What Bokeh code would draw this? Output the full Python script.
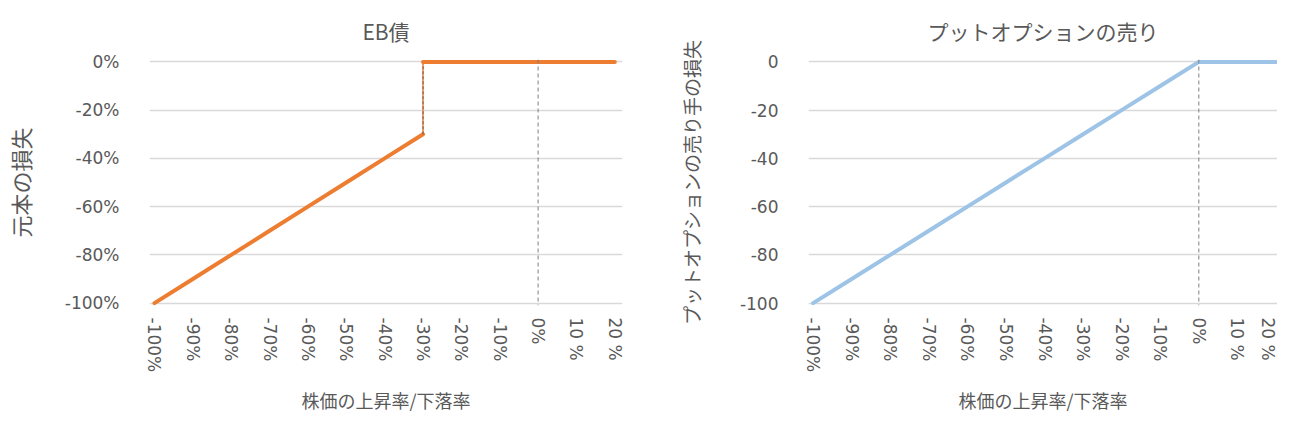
import math
from bokeh.plotting import figure
from bokeh.layouts import row
from bokeh.models import Range1d, FixedTicker, Span
from bokeh.embed import file_html
from bokeh.resources import INLINE

# ---- data ----
x_ticks = [-100, -90, -80, -70, -60, -50, -40, -30, -20, -10, 0, 10, 20]
x_tick_labels = ["-100%", "-90%", "-80%", "-70%", "-60%", "-50%", "-40%",
                 "-30%", "-20%", "-10%", "0%", "10 %", "20 %"]
y_ticks = [-100, -80, -60, -40, -20, 0]
eb_y_tick_labels = ["-100%", "-80%", "-60%", "-40%", "-20%", "0%"]
put_y_tick_labels = ["-100", "-80", "-60", "-40", "-20", "0"]

# EB bond: principal loss vs stock price change (step at -30%)
eb_x_down = [-100, -90, -80, -70, -60, -50, -40, -30]
eb_loss_down = [-100, -90, -80, -70, -60, -50, -40, -30]
eb_x_flat = [-30, -20, -10, 0, 10, 20]
eb_loss_flat = [0, 0, 0, 0, 0, 0]

# Short put: seller's loss vs stock price change
put_x = [-100, -90, -80, -70, -60, -50, -40, -30, -20, -10, 0, 10, 20]
put_loss = [-100, -90, -80, -70, -60, -50, -40, -30, -20, -10, 0, 0, 0]

strike_eb = 0
strike_put = 0

ORANGE = "#ED7D31"
BLUE = "#9DC3E6"
TXT = "#595959"
GRID = "#D9D9D9"
JP = "Noto Sans CJK JP"
NUM = "DejaVu Sans"


def make_fig(width, bl, br, xr, title, title_offset, ylabel, ylabels, ylabel_size, ylabel_standoff):
    p = figure(width=width, height=416, x_range=Range1d(*xr), y_range=Range1d(-101, 1),
               output_backend="svg", toolbar_location=None,
               min_border_left=bl, min_border_right=br, min_border_top=58, min_border_bottom=100,
               title=title)
    p.title.text_font = JP
    p.title.text_font_size = "21px"
    p.title.text_font_style = "normal"
    p.title.text_color = TXT
    p.title.align = "center"
    p.title.offset = title_offset
    p.title.standoff = 27
    p.outline_line_color = None
    p.xgrid.grid_line_color = None
    p.ygrid.grid_line_color = GRID
    p.ygrid.grid_line_width = 1.5
    for ax in (p.xaxis, p.yaxis):
        ax.axis_line_color = None
        ax.major_tick_line_color = None
        ax.minor_tick_line_color = None
        ax.major_label_text_color = TXT
        ax.major_label_text_font = NUM
        ax.major_label_text_font_size = "17px"
        ax.axis_label_text_color = TXT
        ax.axis_label_text_font = JP
        ax.axis_label_text_font_style = "normal"
    p.xaxis.ticker = FixedTicker(ticks=x_ticks)
    p.xaxis.major_label_overrides = {t: l for t, l in zip(x_ticks, x_tick_labels)}
    p.xaxis.major_label_orientation = -math.pi / 2
    p.xaxis.major_label_standoff = 6
    p.xaxis.axis_label = "株価の上昇率/下落率"
    p.xaxis.axis_label_text_font_size = "18px"
    p.xaxis.axis_label_standoff = 12
    p.yaxis.ticker = FixedTicker(ticks=y_ticks)
    p.yaxis.major_label_overrides = {t: l for t, l in zip(y_ticks, ylabels)}
    p.yaxis.major_label_standoff = 24
    p.yaxis.axis_label = ylabel
    p.yaxis.axis_label_text_font_size = ylabel_size
    p.yaxis.axis_label_standoff = ylabel_standoff
    return p


p1 = make_fig(632, 142, 10, (-101.3, 22.0), "EB債", -60, "元本の損失",
              eb_y_tick_labels, "22px", 26)
p1.add_layout(Span(location=strike_eb, dimension="height", line_color="#7F7F7F",
                   line_width=1, line_dash="4 3"))
p1.line(eb_x_down, eb_loss_down, line_color=ORANGE, line_width=4, line_cap="round")
p1.line([eb_x_down[-1], eb_x_flat[0]], [eb_loss_down[-1], eb_loss_flat[0]],
        line_color=ORANGE, line_width=2, line_alpha=0.7)
p1.line([eb_x_down[-1], eb_x_flat[0]], [eb_loss_down[-1], eb_loss_flat[0]],
        line_color="#6B5A50", line_width=1, line_dash="3 2")
p1.line(eb_x_flat, eb_loss_flat, line_color=ORANGE, line_width=4, line_cap="round")

p2 = make_fig(645, 176, 0, (-101.2, 20.4), "プットオプションの売り", -50,
              "プットオプションの売り手の損失", put_y_tick_labels, "19px", 32)
p2.add_layout(Span(location=strike_put, dimension="height", line_color="#7F7F7F",
                   line_width=1, line_dash="4 3"))
p2.line(put_x, put_loss, line_color=BLUE, line_width=4, line_cap="round")

layout = row(p1, p2)
open("out.html", "w").write(file_html(layout, INLINE))
